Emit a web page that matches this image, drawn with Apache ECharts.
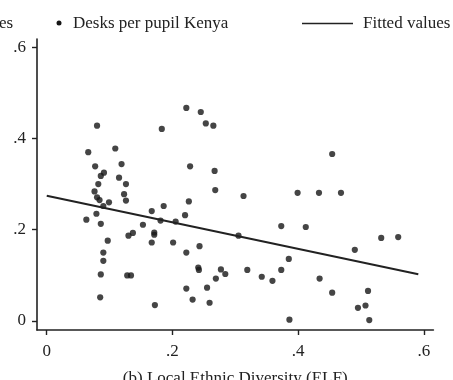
<!DOCTYPE html>
<html>
<head>
<meta charset="utf-8">
<script src="https://cdn.jsdelivr.net/npm/echarts@6/dist/echarts.min.js"></script>
<style>
html,body{margin:0;padding:0;background:#fff;}
#chart{width:453px;height:380px;}
</style>
</head>
<body>
<div id="chart"></div>
<script>
// Local ethnic diversity (ELF) for each school
const elf = [0.080,0.222,0.245,0.253,0.265,0.183,0.066,0.109,0.077,0.119,
  0.228,0.267,0.086,0.091,0.115,0.082,0.126,0.268,0.076,0.123,
  0.454,0.313,0.399,0.433,0.468,0.080,0.084,0.126,0.099,0.090,
  0.186,0.226,0.079,0.063,0.167,0.220,0.181,0.205,0.086,0.153,
  0.137,0.130,0.171,0.171,0.097,0.167,0.201,0.243,0.222,0.090,
  0.090,0.241,0.242,0.277,0.284,0.269,0.086,0.128,0.134,0.222,
  0.255,0.085,0.232,0.259,0.172,0.373,0.412,0.305,0.532,0.559,
  0.490,0.385,0.319,0.373,0.342,0.359,0.434,0.454,0.511,0.495,
  0.507,0.386,0.513];
// Desks per pupil, Kenya
const desks = [0.428,0.467,0.458,0.433,0.428,0.421,0.370,0.378,0.339,0.344,
  0.339,0.329,0.318,0.325,0.314,0.300,0.300,0.287,0.284,0.278,
  0.366,0.274,0.281,0.281,0.281,0.271,0.265,0.264,0.260,0.252,
  0.252,0.262,0.235,0.222,0.241,0.232,0.220,0.218,0.213,0.211,
  0.193,0.187,0.194,0.189,0.176,0.172,0.172,0.164,0.150,0.150,
  0.132,0.117,0.112,0.113,0.103,0.093,0.102,0.100,0.100,0.071,
  0.073,0.052,0.047,0.040,0.035,0.208,0.206,0.187,0.182,0.184,
  0.156,0.136,0.112,0.112,0.097,0.088,0.093,0.062,0.066,0.029,
  0.034,0.003,0.002];
// Fitted values (linear fit) endpoints
const fitX = [0, 0.591];
const fitY = [0.2747, 0.1024];
// Tick values and labels
const tickVals = [0, 0.2, 0.4, 0.6];
const tickLabels = ['0', '.2', '.4', '.6'];
const xTitle = '(b) Local Ethnic Diversity (ELF)';
const scatterName = 'Desks per pupil Kenya';
const fitName = 'Fitted values';

const FONT = '"Liberation Serif", "DejaVu Serif", serif';
const INK = '#222';
const fmt = v => { const i = tickVals.findIndex(t => Math.abs(t - v) < 1e-6); return i >= 0 ? tickLabels[i] : ''; };

const chart = echarts.init(document.getElementById('chart'), null, {renderer: 'canvas'});
chart.setOption({
  animation: false,
  backgroundColor: '#fff',
  grid: {left: 37, right: 453 - 433.4, top: 39, bottom: 50, containLabel: false, outerBoundsMode: 'none'},
  xAxis: {
    type: 'value', min: -0.0155, max: 0.615,
    splitLine: {show: false},
    axisLine: {show: true, onZero: false, lineStyle: {color: INK, width: 1.6}},
    axisTick: {show: true, length: 5, customValues: tickVals, lineStyle: {color: INK, width: 1.4}},
    axisLabel: {show: true, customValues: tickVals, formatter: fmt, margin: 13, color: INK, fontFamily: FONT, fontSize: 17},
    name: xTitle, nameLocation: 'middle', nameGap: 40,
    nameTextStyle: {color: INK, fontFamily: FONT, fontSize: 17}
  },
  yAxis: {
    type: 'value', min: -0.0197, max: 0.618,
    splitLine: {show: false},
    axisLine: {show: true, onZero: false, lineStyle: {color: INK, width: 1.6}},
    axisTick: {show: true, length: 5, customValues: tickVals, lineStyle: {color: INK, width: 1.4}},
    axisLabel: {show: true, customValues: tickVals, formatter: fmt, margin: 11, color: INK, fontFamily: FONT, fontSize: 17}
  },
  series: [
    {
      name: scatterName, type: 'scatter',
      data: elf.map((x, i) => [x, desks[i]]),
      symbol: 'circle', symbolSize: 6.2,
      itemStyle: {color: '#161616'}
    },
    {
      name: fitName, type: 'line',
      data: fitX.map((x, i) => [x, fitY[i]]),
      symbol: 'none', lineStyle: {color: INK, width: 2}
    }
  ],
  graphic: [
    {type: 'text', left: -1, top: 15, style: {text: 'es', font: '17px ' + FONT, fill: INK}},
    {type: 'circle', shape: {cx: 59, cy: 23, r: 2.5}, style: {fill: '#161616'}},
    {type: 'text', left: 73, top: 15, style: {text: scatterName, font: '17px ' + FONT, fill: INK}},
    {type: 'line', shape: {x1: 302, y1: 23.5, x2: 353, y2: 23.5}, style: {stroke: INK, lineWidth: 1.4}},
    {type: 'text', left: 363, top: 15, style: {text: fitName, font: '17px ' + FONT, fill: INK}}
  ]
});
</script>
</body>
</html>
